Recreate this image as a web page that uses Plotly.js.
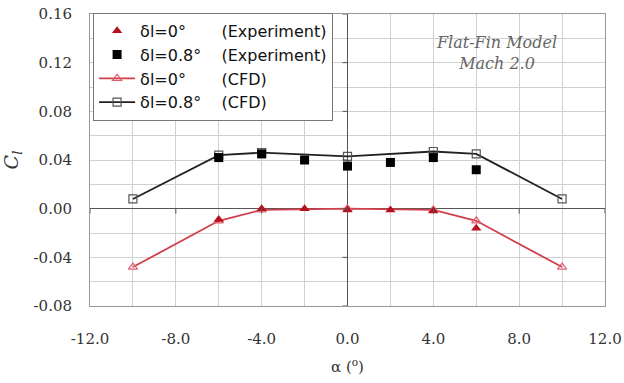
<!DOCTYPE html>
<html><head><meta charset="utf-8">
<script src="https://cdn.plot.ly/plotly-3.0.1.min.js"></script>
<style>html,body{margin:0;padding:0;background:#fff}</style>
</head><body><div id="chart" style="width:624px;height:383px"></div>
<script>
const expAlpha = [-6, -4, -2, 0, 2, 4, 6];
const expCl0 = [-0.009, 0.000, 0.000, -0.001, -0.001, -0.002, -0.016];
const expCl08 = [0.042, 0.045, 0.040, 0.035, 0.038, 0.042, 0.032];
const cfdAlpha = [-10, -6, -4, 0, 4, 6, 10];
const cfdCl0 = [-0.048, -0.010, -0.001, 0.000, -0.001, -0.010, -0.048];
const cfdCl08 = [0.008, 0.044, 0.046, 0.043, 0.047, 0.045, 0.008];
const seriesNames = ['δl=0°\u00a0\u00a0\u00a0\u00a0\u00a0\u00a0\u00a0(Experiment)', 'δl=0.8°\u00a0\u00a0\u00a0\u00a0(Experiment)', 'δl=0°\u00a0\u00a0\u00a0\u00a0\u00a0\u00a0\u00a0(CFD)', 'δl=0.8°\u00a0\u00a0\u00a0\u00a0(CFD)'];
const xTicks = [-12, -8, -4, 0, 4, 8, 12];
const yTicks = [-0.08, -0.04, 0, 0.04, 0.08, 0.12, 0.16];

const traces = [
  {x: cfdAlpha, y: cfdCl0, name: seriesNames[2], mode: 'lines+markers', type: 'scatter',
   line: {color: '#d0404a', width: 1.8}, marker: {symbol: 'triangle-up-open', size: 8, color: '#e06070', line: {width: 1.2}}, legendrank: 3},
  {x: cfdAlpha, y: cfdCl08, name: seriesNames[3], mode: 'lines+markers', type: 'scatter',
   line: {color: '#222', width: 1.8}, marker: {symbol: 'square-open', size: 8, color: '#555', line: {width: 1.2}}, legendrank: 4},
  {x: expAlpha, y: expCl0, name: seriesNames[0], mode: 'markers', type: 'scatter',
   marker: {symbol: 'triangle-up', size: 9, color: '#b8101e'}, legendrank: 1},
  {x: expAlpha, y: expCl08, name: seriesNames[1], mode: 'markers', type: 'scatter',
   marker: {symbol: 'square', size: 9, color: '#000'}, legendrank: 2}
];

// small tick marks on the crossing zero axes (Excel style)
const tickShapes = [];
xTicks.forEach(v => tickShapes.push({type: 'line', xref: 'x', yref: 'y', ysizemode: 'pixel', yanchor: 0,
  x0: v, x1: v, y0: 0, y1: -5, line: {color: '#555', width: 1}, layer: 'above'}));
yTicks.forEach(v => tickShapes.push({type: 'line', xref: 'x', yref: 'y', xsizemode: 'pixel', xanchor: 0,
  x0: -5, x1: 0, y0: v, y1: v, line: {color: '#555', width: 1}, layer: 'above'}));

const tickFont = {family: '"DejaVu Serif", "Liberation Serif", serif', size: 15, color: '#333'};
const layout = {
  width: 624, height: 383,
  margin: {l: 90, r: 19, t: 14, b: 77},
  paper_bgcolor: '#fff', plot_bgcolor: '#fff',
  showlegend: true,
  legend: {x: 0.006, y: 1.004, xanchor: 'left', yanchor: 'top', bgcolor: '#fff',
           bordercolor: '#777', borderwidth: 1, tracegroupgap: 0, itemwidth: 36,
           font: {family: '"DejaVu Sans", Arial, sans-serif', size: 16, color: '#111'}},
  xaxis: {range: [-12, 12], tickvals: xTicks, ticktext: xTicks.map(v => v.toFixed(1)),
          showgrid: true, gridcolor: '#d0d0d0', gridwidth: 1,
          minor: {dtick: 2, showgrid: true, gridcolor: '#d0d0d0', gridwidth: 1},
          zeroline: true, zerolinecolor: '#555', zerolinewidth: 1.5,
          showline: true, linecolor: '#999', mirror: true, ticks: '', ticklabelstandoff: 19, tickfont: tickFont,
          title: {text: 'α (<sup>o</sup>)', font: {family: '"DejaVu Serif", serif', size: 15, color: '#333'}, standoff: 14}},
  yaxis: {range: [-0.08, 0.16], tickvals: yTicks, ticktext: yTicks.map(v => v.toFixed(2)),
          showgrid: true, gridcolor: '#d0d0d0', gridwidth: 1,
          minor: {dtick: 0.02, showgrid: true, gridcolor: '#d0d0d0', gridwidth: 1},
          zeroline: true, zerolinecolor: '#555', zerolinewidth: 1.5,
          showline: true, linecolor: '#999', mirror: true, ticks: '', ticklabelstandoff: 14, tickfont: tickFont,
          title: {text: '<i>C<sub>l</sub></i>', font: {family: '"DejaVu Serif", serif', size: 19, color: '#333'}, standoff: 10}},
  shapes: tickShapes,
  annotations: [
    {xref: 'paper', yref: 'paper', x: 0.79, y: 0.865, xanchor: 'center', yanchor: 'middle',
     text: '<i>Flat-Fin Model</i><br><i>Mach 2.0</i>',
     showarrow: false, align: 'center', font: {family: '"DejaVu Serif", serif', size: 16, color: '#666'}}
  ]
};
Plotly.newPlot('chart', traces, layout, {displayModeBar: false, staticPlot: true});
</script></body></html>
